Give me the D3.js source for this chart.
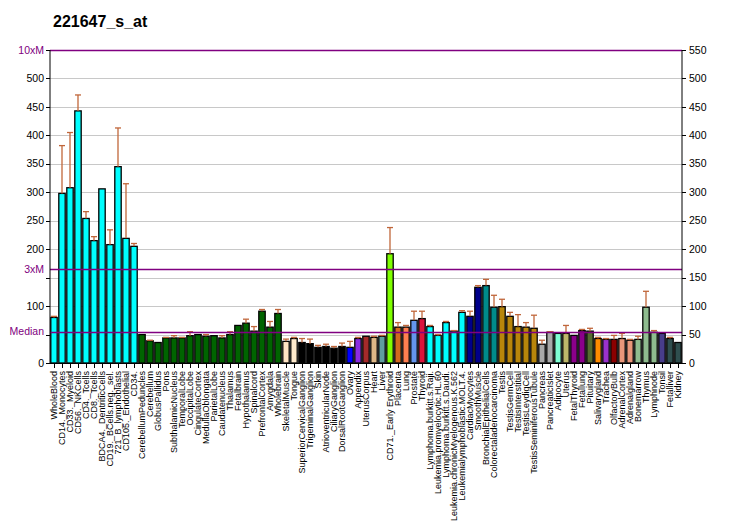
<!DOCTYPE html>
<html><head><meta charset="utf-8">
<script src="https://cdn.jsdelivr.net/npm/d3@7"></script>
<style>body{margin:0;background:#fff;} svg{display:block;font-family:Arial,"Liberation Sans",sans-serif;}</style>
</head><body>
<script>
const title = "221647_s_at";
const categories = ["WholeBlood","CD14._Monocytes","CD33._Myeloid","CD56._NKCells","CD4._Tcells","CD8._Tcells","BDCA4._DentriticCells","CD19._BCells.neg._sel.","721_B_lymphoblasts","CD105._Endothelial","CD34.","CerebellumPeduncles","Cerebellum","GlobusPallidus","Pons","SubthalamicNucleus","TemporalLobe","OccipitalLobe","CingulateCortex","MedullaOblongata","ParietalLobe","Caudatenucleus","Thalamus","Fetalbrain","Hypothalamus","Spinalcord","PrefrontalCortex","Amygdala","Wholebrain","SkeletalMuscle","Tongue","SuperiorCervicalGanglion","TrigeminalGanglion","Skin","AtrioventricularNode","CiliaryGanglion","DorsalRootGanglion","Ovary","Appendix","UterusCorpus","Heart","Liver","CD71._Early Erythroid","Placenta","Lung","Prostate","Thyroid","Lymphoma.burkitt.s.Raji.","Leukemia.promyelocytic.HL.60","Lymphoma.burkitt.s.Daudi.","Leukemia.chronicMyelogenous.K.562","Leukemialymphoblastic.MOLT.4.","CardiacMyocytes","SmoothMuscle","BronchialEpithelialCells","Colorectaladenocarcinoma","Testis","TestisGermCell","TestisInterstitial","TestisLeydigCell","TestisSeminiferousTubule","Pancreas","PancreaticIslet","Adipocyte","Uterus","FetalThyroid","Fetallung","Pituitary","Salivarygland","Trachea","OlfactoryBulb","AdrenalCortex","Adrenalgland","Bonemarrow","Thymus","Lymphnode","Tonsil","Fetalliver","Kidney"];
const values = [80,298,308,443,254,215,306,208,345,219,205,50,39,36,44,44,44,48,50,47,48,44,50,66,70,56,91,63,87,38,43,36,34,27.5,29,26,29,27.5,43,47,45,47,192,63,63,75,78,64,48.5,71,56,89,82,133,136,98,99,82,64,63,61,33,54,52,52,48.5,57,56,43,41.5,41.5,43,40,41.5,98,54,52,43,36];
const errorTops = [82,382,405,471,266,222,306,234,413,315,210,50,40,36,45,48,45,55,50,50,48,48,55,66,77,64,94,73,94,42,45,43,42,31,33,29,35,38,45,47,47,48.5,238,71,66,91,91,66,50,73,57,92,91,136,147,119,112,89,85,71,84,40,55,52,66,48.5,59,61,45,43,48.5,52,41.5,47,126,57,52,45,36];
const colors = ["#00ffff","#00ffff","#00ffff","#00ffff","#00ffff","#00ffff","#00ffff","#00ffff","#00ffff","#00ffff","#00ffff",
 "#006400","#006400","#006400","#006400","#006400","#006400","#006400","#006400","#006400","#006400","#006400","#006400","#006400","#006400","#006400","#006400","#006400","#006400",
 "#ffe4c4","#ffebcd","#000000","#000000","#000000","#000000","#000000","#000000",
 "#0000ff","#8a2be2","#a52a2a","#deb887","#5f9ea0","#7fff00","#d2691e","#ff7f50","#6495ed","#dc143c",
 "#00ffff","#00ffff","#00ffff","#00ffff","#00ffff","#00008b","#00008b","#008b8b","#008b8b",
 "#b8860b","#b8860b","#b8860b","#b8860b","#b8860b","#a9a9a9","#a9a9a9","#7fffd4","#bdb76b","#8b008b","#8b008b","#556b2f","#ff8c00","#9932cc","#8b0000","#e9967a","#e9967a","#8fbc8f","#8fbc8f","#8fbc8f","#483d8b","#2f4f4f","#2f4f4f"];
const median = 55;
const leftTicks = [0,100,200,250,300,350,400,450,500];
const rightTicks = [0,50,100,150,200,250,300,350,400,450,500,550];
const gridTicks = [50,100,150,200,250,300,350,400,450,500];
const refLines = [{v:550,label:"10xM"},{v:165,label:"3xM"},{v:55,label:"Median"}];

const W = 732, H = 530;
const m = {left:50, right:682, top:50, bottom:363};
const svg = d3.select("body").append("svg").attr("width",W).attr("height",H);

const x = d3.scaleBand().domain(categories).range([m.left, m.right]).paddingInner(0.2).paddingOuter(0.1);
const y = d3.scaleLinear().domain([0,550]).range([m.bottom, m.top]);

svg.append("text").attr("x",53).attr("y",27).attr("font-size",16).attr("font-weight","bold").text(title);

// grid
svg.append("g").selectAll("line").data(gridTicks).join("line")
  .attr("x1",m.left).attr("x2",m.right).attr("y1",d=>Math.round(y(d))+0.5).attr("y2",d=>Math.round(y(d))+0.5)
  .attr("stroke","#c8c8c8").attr("stroke-width",1);

// bars
const data = categories.map((c,i)=>({c, v:values[i], e:errorTops[i], col:colors[i]}));
svg.append("g").selectAll("rect").data(data).join("rect")
  .attr("x",d=>x(d.c)).attr("width",x.bandwidth())
  .attr("y",d=>y(d.v)).attr("height",d=>y(0)-y(d.v))
  .attr("fill",d=>d.col).attr("stroke","#000").attr("stroke-width",1.3);

// error bars
const eg = svg.append("g").attr("stroke","#c0663a").attr("stroke-width",1.3);
data.filter(d=>d.e>d.v).forEach(d=>{
  const cx = x(d.c)+x.bandwidth()/2;
  eg.append("line").attr("x1",cx).attr("x2",cx).attr("y1",y(d.v)).attr("y2",y(d.e));
  eg.append("line").attr("x1",cx-3).attr("x2",cx+3).attr("y1",y(d.e)).attr("y2",y(d.e));
});

// reference lines
svg.append("g").selectAll("line").data(refLines).join("line")
  .attr("x1",m.left).attr("x2",m.right).attr("y1",d=>Math.round(y(d.v))+0.5).attr("y2",d=>Math.round(y(d.v))+0.5)
  .attr("stroke","#800080").attr("stroke-width",1.3);

// left axis
const la = svg.append("g").attr("transform",`translate(${m.left},0)`);
la.append("line").attr("x1",0).attr("x2",0).attr("y1",y(550)).attr("y2",y(0)).attr("stroke","#000");
la.selectAll("line.t").data(rightTicks).join("line").attr("class","t")
  .attr("x1",-4).attr("x2",0).attr("y1",d=>Math.round(y(d))+0.5).attr("y2",d=>Math.round(y(d))+0.5).attr("stroke","#000");
la.selectAll("text.n").data(leftTicks).join("text").attr("class","n")
  .attr("x",-6).attr("y",d=>y(d)).attr("dy","0.35em").attr("text-anchor","end").attr("font-size",10.5).text(d=>d);
la.selectAll("text.r").data(refLines).join("text").attr("class","r")
  .attr("x",-6).attr("y",d=>y(d.v)).attr("dy","0.35em").attr("text-anchor","end").attr("font-size",10.5).attr("fill","#800080").text(d=>d.label);

// right axis
const ra = svg.append("g").attr("transform",`translate(${m.right},0)`);
ra.append("line").attr("x1",0).attr("x2",0).attr("y1",y(550)).attr("y2",y(0)).attr("stroke","#000");
ra.selectAll("line.t").data(rightTicks).join("line").attr("class","t")
  .attr("x1",0).attr("x2",4).attr("y1",d=>Math.round(y(d))+0.5).attr("y2",d=>Math.round(y(d))+0.5).attr("stroke","#000");
ra.selectAll("text").data(rightTicks).join("text")
  .attr("x",7).attr("y",d=>y(d)).attr("dy","0.35em").attr("font-size",10.5).text(d=>d);

// bottom axis
const ba = svg.append("g");
ba.append("line").attr("x1",m.left).attr("x2",m.right).attr("y1",m.bottom+0.5).attr("y2",m.bottom+0.5).attr("stroke","#000");
ba.selectAll("line.t").data(categories).join("line").attr("class","t")
  .attr("x1",d=>Math.round(x(d)+x.bandwidth()/2)+0.5).attr("x2",d=>Math.round(x(d)+x.bandwidth()/2)+0.5)
  .attr("y1",m.bottom).attr("y2",m.bottom+5).attr("stroke","#000");
ba.selectAll("text").data(categories).join("text")
  .attr("transform",d=>`translate(${x(d)+x.bandwidth()/2},${m.bottom+8}) rotate(-90)`)
  .attr("dy","0.38em").attr("text-anchor","end").attr("font-size",9).text(d=>d);
</script>
</body></html>
